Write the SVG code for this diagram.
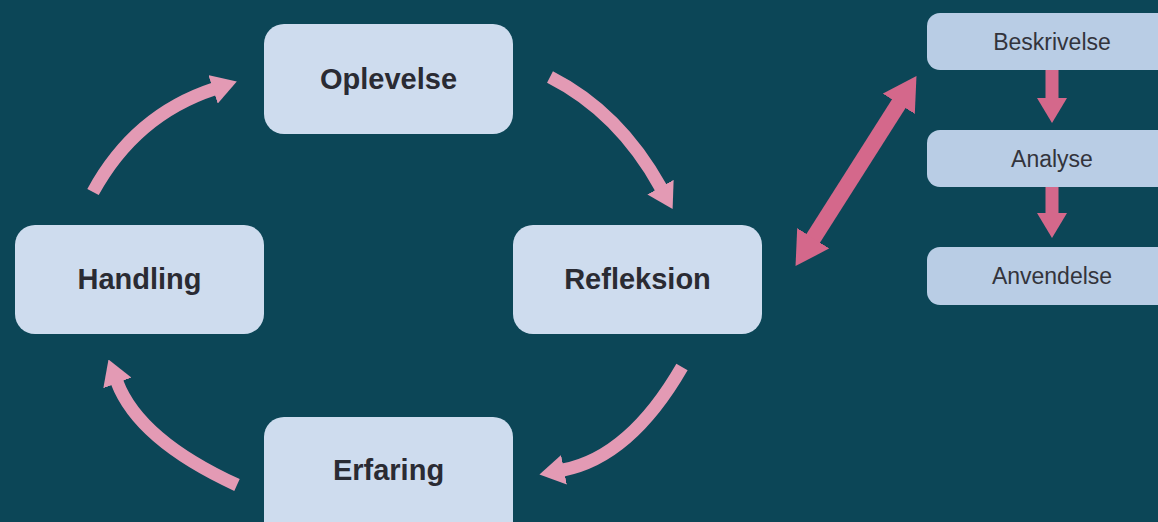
<svg xmlns="http://www.w3.org/2000/svg" width="1158" height="522" viewBox="0 0 1158 522">
<style>
.bg{fill:#0c4657}
.node{fill:#cedcee}
.side{fill:#b9cde5}
.lbl{font-family:"Liberation Sans",Arial,sans-serif;font-weight:bold;font-size:29px;fill:#2a2b33;text-anchor:middle}
.slbl{font-family:"Liberation Sans",Arial,sans-serif;font-size:23px;fill:#33343c;text-anchor:middle}
.arc{fill:none;stroke:#e39ab4;stroke-width:13}
.dbl{fill:none;stroke:#d4688b;stroke-width:16}
.down{fill:none;stroke:#d4688b;stroke-width:13}
</style>
<defs>
<marker id="hArc" markerUnits="userSpaceOnUse" viewBox="0 0 25 30" refX="1" refY="15" markerWidth="25" markerHeight="30" orient="auto">
<path d="M0,0 L25,15 L0,30 z" fill="#e39ab4"/>
</marker>
<marker id="hDbl" markerUnits="userSpaceOnUse" viewBox="0 0 33 38" refX="1" refY="19" markerWidth="33" markerHeight="38" orient="auto-start-reverse">
<path d="M0,0 L33,19 L0,38 z" fill="#d4688b"/>
</marker>
<marker id="hDown" markerUnits="userSpaceOnUse" viewBox="0 0 25 30" refX="1" refY="15" markerWidth="25" markerHeight="30" orient="auto">
<path d="M0,0 L25,15 L0,30 z" fill="#d4688b"/>
</marker>
</defs>
<rect class="bg" x="0" y="0" width="1158" height="522"/>
<g id="connectors">
<path class="arc" d="M93,192 Q135,115 214,89" marker-end="url(#hArc)"/>
<path class="arc" d="M550,77 Q619,112 661,188" marker-end="url(#hArc)"/>
<path class="arc" d="M682,367 Q630,457 563,470" marker-end="url(#hArc)"/>
<path class="arc" d="M237,485 Q139,440 117,382" marker-end="url(#hArc)"/>
<path class="dbl" d="M812.7,239.1 L899.3,102.9" marker-start="url(#hDbl)" marker-end="url(#hDbl)"/>
<path class="down" d="M1052,70 L1052,99" marker-end="url(#hDown)"/>
<path class="down" d="M1052,187 L1052,214" marker-end="url(#hDown)"/>
</g>
<g id="oplevelse"><rect class="node" x="264" y="24" width="249" height="110" rx="20"/><text class="lbl" x="388.5" y="89">Oplevelse</text></g>
<g id="handling"><rect class="node" x="15" y="225" width="249" height="109" rx="20"/><text class="lbl" x="139.5" y="289">Handling</text></g>
<g id="refleksion"><rect class="node" x="513" y="225" width="249" height="109" rx="20"/><text class="lbl" x="637.5" y="289">Refleksion</text></g>
<g id="erfaring"><rect class="node" x="264" y="417" width="249" height="125" rx="20"/><text class="lbl" x="388.5" y="480">Erfaring</text></g>
<g id="beskrivelse"><rect class="side" x="927" y="13" width="260" height="57" rx="13"/><text class="slbl" x="1052" y="50">Beskrivelse</text></g>
<g id="analyse"><rect class="side" x="927" y="130" width="260" height="57" rx="13"/><text class="slbl" x="1052" y="167">Analyse</text></g>
<g id="anvendelse"><rect class="side" x="927" y="247" width="260" height="58" rx="13"/><text class="slbl" x="1052" y="284">Anvendelse</text></g>
</svg>
